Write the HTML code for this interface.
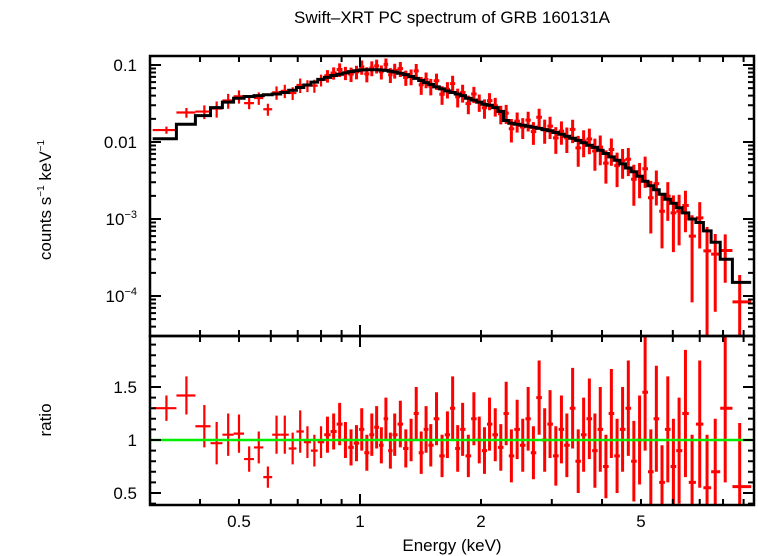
<!DOCTYPE html>
<html><head><meta charset="utf-8"><style>
body{margin:0;background:#fff}
svg{display:block;font-family:"Liberation Sans",sans-serif}
</style></head><body>
<svg id="c" width="758" height="556" viewBox="0 0 758 556">
<text x="452" y="23" font-size="17" text-anchor="middle">Swift–XRT PC spectrum of GRB 160131A</text>
<text transform="translate(51,200) rotate(-90)" font-size="17" text-anchor="middle">counts s<tspan font-size="10" dy="-7">−1</tspan><tspan dy="7"> keV</tspan><tspan font-size="10" dy="-7">−1</tspan></text>
<text transform="translate(51,420) rotate(-90)" font-size="17" text-anchor="middle">ratio</text>
<text x="452" y="551" font-size="17" text-anchor="middle">Energy (keV)</text>
<g id="g"></g>
</svg>
<script>
const energies=[0.33,0.37,0.41,0.44,0.47,0.50,0.53,0.56,0.59,0.62,0.65,0.68,0.71,0.74,0.77,0.80,0.83,0.86,0.89,0.92,0.95,0.98,1.01,1.04,1.07,1.10,1.13,1.16,1.19,1.22,1.26,1.30,1.34,1.38,1.42,1.46,1.50,1.55,1.60,1.65,1.70,1.75,1.80,1.86,1.92,1.98,2.04,2.10,2.17,2.24,2.31,2.38,2.46,2.54,2.62,2.70,2.79,2.88,2.97,3.07,3.17,3.27,3.38,3.49,3.60,3.72,3.84,3.96,4.09,4.22,4.36,4.50,4.65,4.80,4.96,5.12,5.29,5.46,5.64,5.83,6.02,6.22,6.45,6.70,7.0,7.3,7.65,8.1,8.8];
const modelValues=[0.011,0.017,0.022,0.028,0.033,0.037,0.039,0.040,0.041,0.042,0.044,0.047,0.051,0.055,0.060,0.065,0.069,0.073,0.076,0.079,0.082,0.084,0.086,0.087,0.087,0.087,0.086,0.085,0.083,0.081,0.078,0.075,0.071,0.067,0.063,0.059,0.056,0.052,0.049,0.046,0.044,0.042,0.040,0.037,0.035,0.033,0.031,0.030,0.028,0.025,0.019,0.0175,0.017,0.0165,0.016,0.0155,0.015,0.0145,0.014,0.0133,0.0126,0.0119,0.0112,0.0105,0.0098,0.0091,0.0085,0.0078,0.0071,0.0064,0.0058,0.0052,0.0046,0.0041,0.0036,0.0031,0.0027,0.0024,0.0021,0.0018,0.0016,0.0014,0.0012,0.001,0.0009,0.0007,0.0005,0.0003,0.00015];
const ratioValues=[1.3,1.42,1.13,0.97,1.05,1.06,0.82,0.93,0.65,1.05,1.05,0.92,1.08,0.98,0.9,0.98,1.05,1.08,1.15,1.0,0.93,0.97,1.1,0.88,1.05,1.12,0.95,1.2,0.9,1.05,1.15,0.92,1.0,1.25,0.88,1.1,0.95,1.2,0.85,1.05,1.3,0.92,1.1,0.85,1.2,1.0,0.9,1.15,1.05,0.93,1.25,0.85,1.1,0.95,1.2,0.88,1.4,1.0,1.15,0.85,1.1,0.95,1.3,0.8,1.05,1.2,0.9,1.1,0.75,1.25,0.85,1.1,1.3,0.8,1.0,1.45,0.7,1.2,0.6,1.1,0.75,0.9,1.25,0.6,1.15,0.55,0.7,1.3,0.56];
const ratioErrors=[0.12,0.18,0.2,0.2,0.2,0.18,0.12,0.15,0.1,0.18,0.18,0.15,0.2,0.15,0.15,0.15,0.17,0.17,0.2,0.17,0.17,0.17,0.2,0.17,0.2,0.2,0.17,0.2,0.17,0.2,0.22,0.18,0.2,0.25,0.2,0.22,0.2,0.25,0.2,0.22,0.3,0.22,0.25,0.2,0.25,0.22,0.22,0.25,0.25,0.22,0.3,0.25,0.28,0.25,0.3,0.25,0.35,0.3,0.32,0.28,0.32,0.3,0.38,0.3,0.35,0.38,0.35,0.4,0.3,0.42,0.35,0.4,0.45,0.38,0.42,0.55,0.4,0.5,0.35,0.5,0.45,0.5,0.6,0.45,0.6,0.5,0.5,0.7,0.6];
const xTickLabels=["0.5","1","2","5"];
const xTickValues=[0.5,1,2,5];
const topTickValues=[0.1,0.01,0.001,0.0001];
const ratioTickValues=[0.5,1,1.5];
const ratioTickLabels=["0.5","1","1.5"];

const L=150,R=754,T1=56,B1=336,B2=505;
const X=e=>360+402*Math.log10(e);
const Y1=v=>219-77*(Math.log10(v)+3);
const Y2=r=>440-106*(r-1);
const g=document.getElementById('g');
const NS='http://www.w3.org/2000/svg';
function mk(t,a){const el=document.createElementNS(NS,t);for(const k in a)el.setAttribute(k,a[k]);g.appendChild(el);return el;}
const cl=(v,a,b)=>Math.max(a,Math.min(b,v));

const edges=energies.map((e,i)=>{
  const lo=i===0?0.305:Math.sqrt(energies[i-1]*e);
  const hi=i===energies.length-1?9.4:Math.sqrt(energies[i+1]*e);
  return [lo,hi];
});

let d='';
energies.forEach((e,i)=>{
  const y=Y1(modelValues[i]);
  d+=(i===0?'M':'L')+X(edges[i][0]).toFixed(1)+','+y.toFixed(1)+'L'+X(edges[i][1]).toFixed(1)+','+y.toFixed(1);
});
energies.forEach((e,i)=>{
  const f=modelValues[i]*ratioValues[i];
  const fe=modelValues[i]*ratioErrors[i]*1.15;
  const x=X(e),x0=X(edges[i][0]),x1=X(edges[i][1]);
  const w=e>0.8?3:2.2;
  const y=Y1(f),ya=cl(Y1(f+fe),T1,B1),yb=cl(Y1(Math.max(f-fe,1e-6)),T1,B1);
  const p=mk('path',{d:`M${x0},${y}H${x1}M${x},${ya}V${yb}`,stroke:'#ff0000','stroke-width':w,fill:'none'});
  
  
  const r=ratioValues[i],re=ratioErrors[i];
  const y2=Y2(r),y2a=cl(Y2(r+re),B1,B2),y2b=cl(Y2(r-re),B1,B2);
  const q=mk('path',{d:`M${x0},${y2}H${x1}M${x},${y2a}V${y2b}`,stroke:'#ff0000','stroke-width':w,fill:'none'});
  
  
});
const m=mk('path',{d:d,stroke:'#000','stroke-width':3,fill:'none'});


const gl=mk('line',{x1:L,x2:R,y1:Y2(1),y2:Y2(1),stroke:'#00ee00','stroke-width':2.5});



[[T1,B1],[B1,B2]].forEach(([a,b],k)=>{
  const fr=mk('rect',{x:L,y:a,width:R-L,height:b-a,fill:'none',stroke:'#000','stroke-width':2.5});
  
  
});
let t='';
const minors=[0.4,0.5,0.6,0.7,0.8,0.9,2,3,4,5,6,7,8,9];
minors.forEach(v=>{const x=X(v);t+=`M${x},${T1}v6M${x},${B1}v-6M${x},${B1}v6M${x},${B2}v-6`;});
t+=`M${X(1)},${T1}v11M${X(1)},${B1}v-11M${X(1)},${B1}v11M${X(1)},${B2}v-11`;
for(let dec=-5;dec<=-1;dec++)for(let k=1;k<10;k++){const v=k*Math.pow(10,dec);const y=Y1(v);if(y<T1||y>B1)continue;const len=k===1?11:6;t+=`M${L},${y}h${len}M${R},${y}h${-len}`;}
for(let r=0.4;r<2.0;r+=0.1){const y=Y2(r);if(y<=B1||y>=B2)continue;const maj=Math.abs(r*2-Math.round(r*2))<1e-6;const len=maj?11:6;t+=`M${L},${y}h${len}M${R},${y}h${-len}`;}
const tk=mk('path',{d:t,stroke:'#000','stroke-width':2,fill:'none'});



function txt(x,y,s,anchor,name){const el=mk('text',{x:x,y:y,'font-size':17,'text-anchor':anchor});el.textContent=s;return el;}
xTickValues.forEach((v,i)=>txt(X(v),527,xTickLabels[i],'middle','x-tick-label'));
ratioTickValues.forEach((v,i)=>txt(137,Y2(v)+6,ratioTickLabels[i],'end','ratio-tick-label'));
topTickValues.forEach(v=>{
  const y=Y1(v)+6;
  const ex=Math.round(Math.log10(v));
  if(ex>=-2){txt(137,y,String(v),'end','y-tick-label');}
  else{const el=txt(137,y,'10','end','y-tick-label');const s=document.createElementNS(NS,'tspan');s.setAttribute('font-size','11');s.setAttribute('dy','-7');s.textContent='−'+(-ex);el.appendChild(s);}
});
</script>
</body></html>
